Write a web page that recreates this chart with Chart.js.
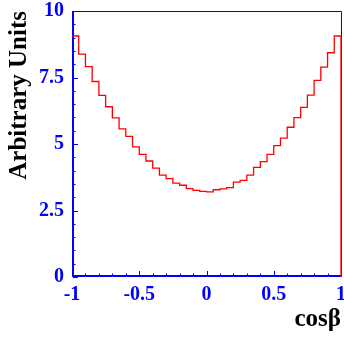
<!DOCTYPE html>
<html>
<head>
<meta charset="utf-8">
<script src="https://cdn.jsdelivr.net/npm/chart.js@4"></script>
<style>
html, body { margin: 0; padding: 0; background: #fff; }
#wrap { width: 344px; height: 337px; }
</style>
</head>
<body>
<div id="wrap"><canvas id="chartCanvas"></canvas></div>
<script>
// --- Data ---
const binLow = -1;
const binWidth = 0.05;
const counts = [
    9.06, 8.38, 7.91, 7.35, 6.83, 6.40, 5.98, 5.57, 5.29, 4.89,
    4.61, 4.36, 4.09, 3.83, 3.70, 3.53, 3.45, 3.32, 3.26, 3.22,
    3.20, 3.28, 3.31, 3.36, 3.57, 3.63, 3.83, 4.12, 4.34, 4.61,
    4.94, 5.22, 5.63, 5.99, 6.38, 6.84, 7.39, 7.89, 8.43, 9.06
];
const xTicks = [-1, -0.5, 0, 0.5, 1];
const yTicks = [0, 2.5, 5, 7.5, 10];

const blue = '#0000ff';
const canvas = document.getElementById('chartCanvas');

// histogram outline as step points (left edge of each bin), then close at x=1
const points = counts.map((c, i) => ({ x: binLow + i * binWidth, y: c }));
points.push({ x: binLow + counts.length * binWidth, y: counts[counts.length - 1] });
points.push({ x: binLow + counts.length * binWidth, y: 0 });

// frame + inward ticks, ROOT style
const framePlugin = {
    id: 'frame',
    beforeDatasetsDraw(chart) {
        const { ctx, chartArea: a, scales } = chart;
        const x = scales.x, y = scales.y;
        ctx.save();
        ctx.strokeStyle = blue;

        // top / right thin
        ctx.lineWidth = 1;
        ctx.beginPath();
        ctx.moveTo(a.left, a.top + 0.5);
        ctx.lineTo(a.right + 0.5, a.top + 0.5);
        ctx.lineTo(a.right + 0.5, a.bottom);
        ctx.stroke();

        // left / bottom thicker
        ctx.lineWidth = 2;
        ctx.beginPath();
        ctx.moveTo(a.left + 1, a.top);
        ctx.lineTo(a.left + 1, a.bottom - 1);
        ctx.lineTo(a.right + 1, a.bottom - 1);
        ctx.stroke();

        ctx.lineWidth = 1;
        ctx.beginPath();
        for (let i = 0; i <= 20; i++) {
            const px = Math.round(x.getPixelForValue(-1 + i * 0.1)) + 0.5;
            const len = i % 5 === 0 ? 5 : 2.5;
            ctx.moveTo(px, a.bottom - 1);
            ctx.lineTo(px, a.bottom - 1 - len);
        }
        for (let i = 0; i <= 20; i++) {
            const py = Math.round(y.getPixelForValue(i * 0.5)) + 0.5;
            const len = i % 5 === 0 ? 5 : 2.5;
            ctx.moveTo(a.left + 1, py);
            ctx.lineTo(a.left + 1 + len, py);
        }
        ctx.stroke();
        ctx.restore();
    }
};

const tickFont = { family: 'Liberation Serif', weight: 'bold', size: 20 };
const titleFont = { family: 'Liberation Serif', weight: 'bold', size: 25 };

const cfg = {
    type: 'line',
    data: {
        datasets: [{
            data: points,
            stepped: true,
            borderColor: '#ff0000',
            borderWidth: 1.3,
            pointRadius: 0,
            fill: false,
            clip: 4
        }]
    },
    options: {
        responsive: true,
        maintainAspectRatio: false,
        animation: false,
        layout: { padding: { top: 11, right: 3, left: 0, bottom: 0 } },
        plugins: {
            legend: { display: false },
            title: { display: false },
            tooltip: { enabled: false }
        },
        scales: {
            x: {
                type: 'linear',
                min: -1,
                max: 1,
                afterFit: s => { s.height = 60; s.paddingLeft = 0; s.paddingRight = 0; },
                afterBuildTicks: s => { s.ticks = xTicks.map(v => ({ value: v })); },
                grid: { display: false, drawTicks: false },
                border: { display: false },
                ticks: {
                    color: blue,
                    padding: 6,
                    maxRotation: 0,
                    autoSkip: false,
                    font: tickFont,
                    callback: v => String(v)
                },
                title: {
                    display: true,
                    text: 'cosβ',
                    align: 'end',
                    color: '#000',
                    padding: { top: 0, bottom: 2 },
                    font: titleFont
                }
            },
            y: {
                type: 'linear',
                min: 0,
                max: 10,
                afterFit: s => { s.width = 72; s.paddingTop = 0; s.paddingBottom = 0; },
                afterBuildTicks: s => { s.ticks = yTicks.map(v => ({ value: v })); },
                grid: { display: false, drawTicks: false },
                border: { display: false },
                ticks: {
                    color: blue,
                    padding: 8,
                    autoSkip: false,
                    font: tickFont,
                    callback: v => String(v)
                },
                title: {
                    display: true,
                    text: 'Arbitrary Units',
                    align: 'end',
                    color: '#000',
                    padding: { top: 5, bottom: 0 },
                    font: titleFont
                }
            }
        }
    },
    plugins: [framePlugin]
};

new Chart(canvas, cfg);
</script>
</body>
</html>
